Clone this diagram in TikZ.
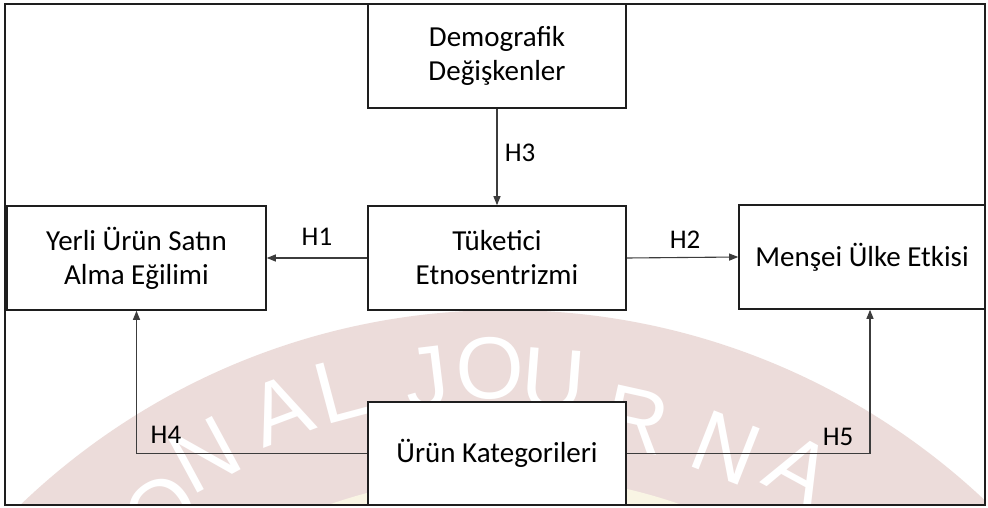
\documentclass[tikz,border=0pt]{standalone}
\usepackage{fontspec}
\setmainfont{Carlito}
\newfontfamily\wmfont{Liberation Sans}
\usetikzlibrary{arrows.meta}
\definecolor{wmpink}{RGB}{236,220,218}
\definecolor{wmcream}{RGB}{249,245,228}
\definecolor{edgecol}{RGB}{30,30,30}
\definecolor{conncol}{RGB}{60,60,60}
\begin{document}
\begin{tikzpicture}[x=1pt,y=-1pt,
  box/.style={draw=edgecol, line width=1.6pt, fill=white, inner sep=0pt, align=center,
    font=\fontsize{29}{34}\selectfont},
  lbl/.style={inner sep=0pt, font=\fontsize{27}{30}\selectfont},
  connector/.style={draw=conncol, line width=1.1pt, -{Triangle[length=9pt,width=7pt]}},
  wm/.style={text=white, inner sep=0pt, font=\wmfont\fontsize{88}{90}\selectfont}]
\useasboundingbox (0,0) rectangle (988,508);
\fill[white] (0,0) rectangle (988,508);
% watermark
\begin{scope}
  \clip (5,4) rectangle (985,505);
  \fill[wmpink] (505,1010) circle[radius=700];
  \fill[wmcream] (505,1010) circle[radius=535];
  \node[wm, rotate=34.6] (w1) at (161,511) {O};
  \node[wm, rotate=28.4] (w2) at (205,455) {N};
  \node[wm, rotate=20.6] (w3) at (280,410) {A};
  \node[wm, rotate=14.9] (w4) at (340,390) {L};
  \node[wm, rotate=7]    (w5) at (427,378) {J};
  \node[wm, rotate=1.3]  (w6) at (490,368) {O};
  \node[wm, rotate=-4.4] (w7) at (553,380) {U};
  \node[wm, rotate=-12.5] (w8) at (636,420) {R};
  \node[wm, rotate=-21.5] (w9) at (726,448) {N};
  \node[wm, rotate=-28.6] (w10) at (800,470) {A};
\end{scope}
% outer frame
\draw[edgecol, line width=1.6pt] (5,4) rectangle (985,505);
% boxes
\node[box, minimum width=258pt, minimum height=104pt] (demo) at (497,56) {Demografik\\Değişkenler};
\node[box, minimum width=258pt, minimum height=104pt] (tuk) at (497,258) {Tüketici\\Etnosentrizmi};
\node[box, minimum width=259pt, minimum height=104pt] (yerli) at (136.5,258) {Yerli Ürün Satın\\Alma Eğilimi};
\node[box, minimum width=246pt, minimum height=104pt] (mensei) at (862,257) {Menşei Ülke Etkisi};
\node[box, minimum width=258pt, minimum height=103pt] (urun) at (497,453.5) {Ürün Kategorileri};
% connectors
\draw[connector] (demo) -- (tuk);
\draw[connector] (tuk) -- (yerli);
\draw[connector] (tuk.east) -- (mensei.west);
\draw[connector] (urun.west) -| (yerli.south);
\draw[connector] (urun.east) -| ([xshift=8pt]mensei.south);
% labels
\node[lbl] (h3) at (520,153) {H3};
\node[lbl] (h1) at (317,237) {H1};
\node[lbl] (h2) at (685,240) {H2};
\node[lbl] (h4) at (166,435) {H4};
\node[lbl] (h5) at (838,437) {H5};
\end{tikzpicture}
\end{document}
